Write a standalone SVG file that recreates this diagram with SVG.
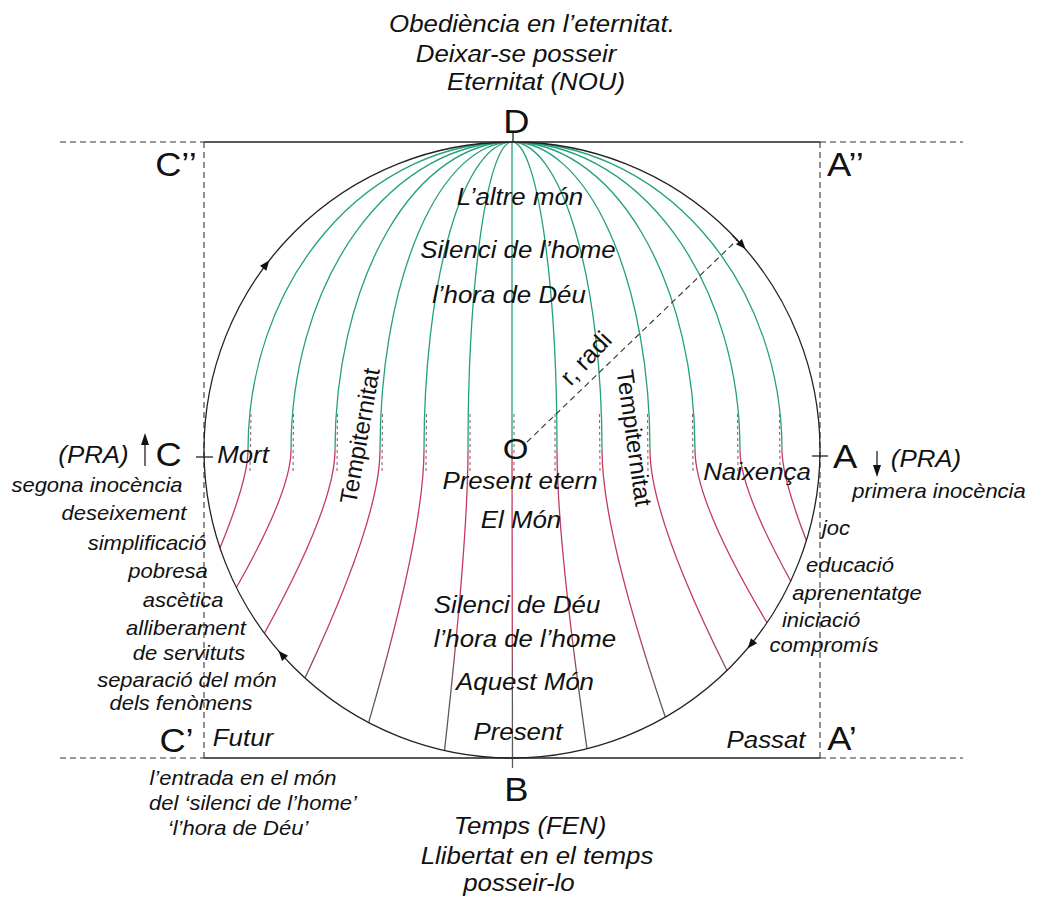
<svg xmlns="http://www.w3.org/2000/svg" width="1039" height="897" viewBox="0 0 1039 897">
<defs>
<linearGradient id="lowgrad" gradientUnits="userSpaceOnUse" x1="0" y1="450" x2="0" y2="758">
<stop offset="0" stop-color="#c43a5e"/>
<stop offset="0.58" stop-color="#c43a5e"/>
<stop offset="0.8" stop-color="#5a5a5a"/>
<stop offset="1" stop-color="#5a5a5a"/>
</linearGradient>
<path id="ah" d="M0,0 L-10,-4 L-10,4 Z" fill="#111"/>
</defs>
<style>
text{font-family:"Liberation Sans",Arial,sans-serif;fill:#111}
.it{font-style:italic;font-size:23.5px;text-anchor:middle}
.sm{font-style:italic;font-size:20px;text-anchor:middle}
.big{font-size:33px;text-anchor:middle}
.rot{font-size:24px;text-anchor:middle}
.dash{fill:none;stroke:#333;stroke-width:1.1;stroke-dasharray:6 4}
.solid{fill:none;stroke:#222;stroke-width:1.3}
.up{fill:none;stroke:#23a07c;stroke-width:1.3}
.low{fill:none;stroke:url(#lowgrad);stroke-width:1.3}
.ov{fill:none;stroke:#8a6a70;stroke-width:1.1;stroke-dasharray:3 3}
</style>
<rect width="1039" height="897" fill="#ffffff"/>

<g id="frame">
<line class="solid" x1="204" y1="142" x2="820" y2="142"/>
<line class="solid" x1="204" y1="758" x2="820" y2="758"/>
<line class="dash" x1="60" y1="142" x2="204" y2="142"/>
<line class="dash" x1="820" y1="142" x2="963" y2="142"/>
<line class="dash" x1="60" y1="758" x2="204" y2="758"/>
<line class="dash" x1="820" y1="758" x2="963" y2="758"/>
<line class="dash" x1="204" y1="142" x2="204" y2="758"/>
<line class="dash" x1="820" y1="142" x2="820" y2="758"/>
</g>

<g id="connectors">
<!-- upper (green) meridians -->
<path class="up" d="M512 142 A264 308 0 0 0 248 450"/>
<path class="up" d="M512 142 A221 308 0 0 0 291 450"/>
<path class="up" d="M512 142 A177 308 0 0 0 335 450"/>
<path class="up" d="M512 142 A132 308 0 0 0 380 450"/>
<path class="up" d="M512 142 A88 308 0 0 0 424 450"/>
<path class="up" d="M512 142 A44 308 0 0 0 468 450"/>
<path class="up" d="M512 142 L512 450"/>
<path class="up" d="M512 142 A45 308 0 0 1 557 450"/>
<path class="up" d="M512 142 A90 308 0 0 1 602 450"/>
<path class="up" d="M512 142 A138 308 0 0 1 650 450"/>
<path class="up" d="M512 142 A183 308 0 0 1 695 450"/>
<path class="up" d="M512 142 A228 308 0 0 1 740 450"/>
<path class="up" d="M512 142 A270 308 0 0 1 782 450"/>
<!-- lower (red) parts -->
<path class="low" d="M248 450 Q248 479.4 220 548"/>
<path class="low" d="M291 450 Q291 491.3 236.4 587.5"/>
<path class="low" d="M335 450 Q335 505 264.4 633.2"/>
<path class="low" d="M380 450 Q380 518.4 305 678"/>
<path class="low" d="M424 450 Q424 531.8 368.6 722.6"/>
<path class="low" d="M468 450 Q468 540.2 444.5 750.5"/>
<path class="low" d="M512 450 L512.5 768"/>
<path class="low" d="M557 450 Q557 539.6 587 748.8"/>
<path class="low" d="M602 450 Q602 530.1 665.3 717"/>
<path class="low" d="M650 450 Q650 516.2 727 670.5"/>
<path class="low" d="M695 450 Q695 501.8 767 622.7"/>
<path class="low" d="M740 450 Q740 489.3 790.7 581"/>
<path class="low" d="M782 450 Q782 477.2 806.4 540.6"/>
<!-- transition overlays -->
<line class="ov" x1="251" y1="414" x2="250" y2="472"/>
<line class="ov" x1="293.5" y1="414" x2="293" y2="472"/>
<line class="ov" x1="337.5" y1="414" x2="337" y2="472"/>
<line class="ov" x1="382.5" y1="414" x2="382" y2="472"/>
<line class="ov" x1="426.5" y1="414" x2="426" y2="472"/>
<line class="ov" x1="470" y1="414" x2="470" y2="472"/>
<line class="ov" x1="514" y1="414" x2="514" y2="472"/>
<line class="ov" x1="555" y1="414" x2="555" y2="472"/>
<line class="ov" x1="599.5" y1="414" x2="600" y2="472"/>
<line class="ov" x1="647.5" y1="414" x2="648" y2="472"/>
<line class="ov" x1="692.5" y1="414" x2="693" y2="472"/>
<line class="ov" x1="737.5" y1="414" x2="738" y2="472"/>
<line class="ov" x1="779.5" y1="414" x2="780" y2="472"/>
<!-- radius -->
<line class="dash" x1="527" y1="442" x2="737" y2="240"/>
<line class="solid" x1="732.1" y1="235" x2="741.9" y2="245"/>
<!-- ticks -->
<line class="solid" x1="513" y1="133" x2="513" y2="142"/>
<line class="solid" x1="196" y1="457" x2="213" y2="457"/>
<line class="solid" x1="812" y1="456" x2="828" y2="456"/>
<!-- PRA arrows -->
<line class="solid" x1="145" y1="466" x2="145" y2="442"/>
<path d="M145 433 L141 445 L149 445 Z" fill="#111"/>
<line class="solid" x1="877" y1="451" x2="877" y2="468"/>
<path d="M877 477 L873 465 L881 465 Z" fill="#111"/>
</g>

<g id="circle">
<circle class="solid" cx="512" cy="450" r="308"/>
<use href="#ah" transform="translate(269.3 260.4) rotate(-52)"/>
<use href="#ah" transform="translate(745.5 249.1) rotate(49.3)"/>
<use href="#ah" transform="translate(747.6 648.4) rotate(130.1)"/>
<use href="#ah" transform="translate(278.5 650.8) rotate(229.3)"/>
</g>

<g transform="scale(1.1 1)">
<g id="node-D">
<text class="it" x="483.6" y="32">Obediència en l’eternitat.</text>
<text class="it" x="469.1" y="62">Deixar-se posseir</text>
<text class="it" x="487.3" y="90">Eternitat (NOU)</text>
<text class="big" x="469.5" y="133">D</text>
</g>
<g id="node-corners">
<text class="big" x="160" y="176">C’’</text>
<text class="big" x="768.6" y="176">A’’</text>
<text class="big" x="160.5" y="752">C’</text>
<text class="big" x="765.5" y="750">A’</text>
</g>
<g id="node-center">
<text class="it" x="472.7" y="205">L’altre món</text>
<text class="it" x="470.9" y="258">Silenci de l’home</text>
<text class="it" x="462.7" y="303">l’hora de Déu</text>
<text class="big" style="font-size:30px" x="468.6" y="459">O</text>
<text class="it" x="472.7" y="489">Present etern</text>
<text class="it" x="473.6" y="528">El Món</text>
<text class="it" x="470" y="613">Silenci de Déu</text>
<text class="it" x="477.3" y="647">l’hora de l’home</text>
<text class="it" x="477.3" y="690">Aquest Món</text>
<text class="it" x="470.9" y="740">Present</text>
</g>
<g id="node-C">
<text class="it" x="85" y="463">(PRA)</text>
<text class="big" x="153.2" y="466">C</text>
<text class="it" x="220.9" y="463">Mort</text>
<text class="sm" x="88.2" y="492">segona inocència</text>
<text class="sm" x="112.7" y="520">deseixement</text>
<text class="sm" x="133.6" y="550">simplificació</text>
<text class="sm" x="152.7" y="578">pobresa</text>
<text class="sm" x="166.4" y="607">ascètica</text>
<text class="sm" x="169.1" y="635">alliberament</text>
<text class="sm" x="171.8" y="660">de servituts</text>
<text class="sm" x="170" y="687">separació del món</text>
<text class="sm" x="164.5" y="710">dels fenòmens</text>
<text class="it" x="220.9" y="746">Futur</text>
</g>
<g id="node-A">
<text class="big" x="768.2" y="468">A</text>
<text class="it" x="841.8" y="467">(PRA)</text>
<text class="sm" x="853.6" y="498">primera inocència</text>
<text class="it" x="688.2" y="480">Naixença</text>
<text class="sm" x="760" y="535">joc</text>
<text class="sm" x="772.7" y="572">educació</text>
<text class="sm" x="779.1" y="600">aprenentatge</text>
<text class="sm" x="746.4" y="627">iniciació</text>
<text class="sm" x="749.1" y="652">compromís</text>
<text class="it" x="696.4" y="748">Passat</text>
</g>
<g id="node-B">
<text class="sm" x="220.9" y="785">l’entrada en el món</text>
<text class="sm" x="230" y="810">del ‘silenci de l’home’</text>
<text class="sm" x="216.4" y="835">‘l’hora de Déu’</text>
<text class="big" x="469.5" y="801">B</text>
<text class="it" x="481.8" y="834">Temps (FEN)</text>
<text class="it" x="488.2" y="864">Llibertat en el temps</text>
<text class="it" x="471.8" y="891">posseir-lo</text>
</g>
</g>

<g id="node-rotated">
<text class="rot" transform="translate(360 436) rotate(-80)" y="8">Tempiternitat</text>
<text class="rot" transform="translate(634 438) rotate(82)" y="8">Tempiternitat</text>
<text class="rot" style="font-size:25px" transform="translate(592 364) rotate(-47)">r, radi</text>
</g>
</svg>
